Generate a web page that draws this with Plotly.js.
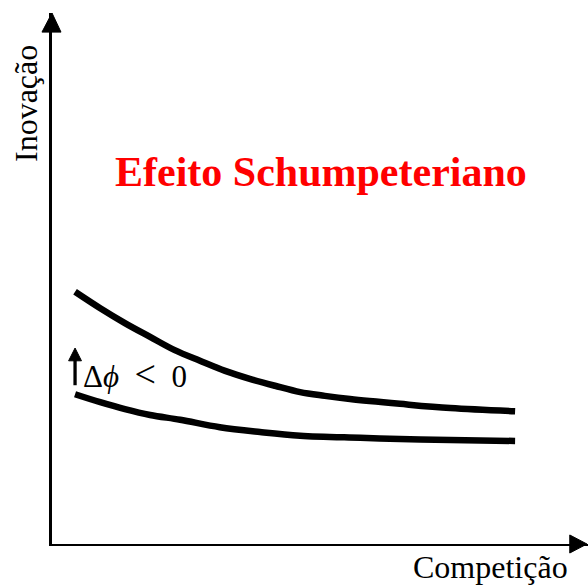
<!DOCTYPE html>
<html>
<head>
<meta charset="utf-8">
<script src="https://cdn.plot.ly/plotly-3.0.1.min.js"></script>
<style>html,body{margin:0;padding:0;background:#fff;}#chart{width:588px;height:587px;}</style>
</head>
<body>
<div id="chart"></div>
<script>
// Competição (x) vs Inovação (y), arbitrary units 0..10
var upperX = [0.43, 0.90, 1.36, 1.83, 2.29, 2.76, 3.23, 3.69, 4.16, 4.63, 5.09, 5.56, 6.49, 7.43, 8.64];
var upperY = [4.75, 4.44, 4.16, 3.90, 3.65, 3.45, 3.26, 3.11, 2.98, 2.86, 2.79, 2.73, 2.64, 2.56, 2.50];
var lowerX = [0.43, 0.90, 1.36, 1.83, 2.39, 3.13, 3.88, 4.63, 5.75, 6.87, 8.64];
var lowerY = [2.82, 2.67, 2.54, 2.43, 2.34, 2.20, 2.11, 2.04, 2.00, 1.97, 1.94];

var xLabel = 'Competição';
var yLabel = 'Inovação';
var titleText = 'Efeito Schumpeteriano';
var shiftLabel = 'Δ<i>ϕ</i>\u2002<span style="font-size:38px">&lt;</span>\u20020';

var serif = '"Liberation Serif", "Times New Roman", serif';

var traces = [
  {x: upperX, y: upperY, mode: 'lines', line: {color: '#000', width: 6.5, shape: 'spline', smoothing: 1}, hoverinfo: 'skip', showlegend: false},
  {x: lowerX, y: lowerY, mode: 'lines', line: {color: '#000', width: 6.5, shape: 'spline', smoothing: 1}, hoverinfo: 'skip', showlegend: false}
];

var layout = {
  width: 588, height: 587,
  margin: {l: 52, r: 0, t: 13, b: 43},
  paper_bgcolor: '#fff', plot_bgcolor: '#fff',
  showlegend: false,
  xaxis: {range: [0, 10], showline: true, linecolor: '#000', linewidth: 2, showgrid: false, zeroline: false, showticklabels: false, ticks: ''},
  yaxis: {range: [0, 10], showline: true, linecolor: '#000', linewidth: 3, showgrid: false, zeroline: false, showticklabels: false, ticks: ''},
  shapes: [
    // y-axis arrowhead
    {type: 'path', xref: 'paper', yref: 'paper', path: 'M -0.0187 0.964 L 0 1 L 0.0168 0.964 Z', fillcolor: '#000', line: {color: '#000', width: 1}},
    // x-axis arrowhead
    {type: 'path', xref: 'paper', yref: 'paper', path: 'M 0.966 0.017 L 0.998 0 L 0.966 -0.017 Z', fillcolor: '#000', line: {color: '#000', width: 1}},
    // shift arrow
    {type: 'line', xref: 'x', yref: 'y', x0: 0.43, x1: 0.43, y0: 2.99, y1: 3.5, line: {color: '#000', width: 3.3}},
    {type: 'path', xref: 'x', yref: 'y', path: 'M 0.31 3.45 L 0.43 3.69 L 0.55 3.45 Z', fillcolor: '#000', line: {color: '#000', width: 1}}
  ],
  annotations: [
    {text: titleText, xref: 'paper', yref: 'paper', x: (321 - 52) / 536, y: (544 - 172) / 531, showarrow: false, xanchor: 'center', yanchor: 'middle', font: {family: serif, size: 42, color: '#ff0000', weight: 'bold'}},
    {text: xLabel, xref: 'paper', yref: 'paper', x: (490 - 52) / 536, y: (544 - 567) / 531, showarrow: false, xanchor: 'center', yanchor: 'middle', font: {family: serif, size: 32, color: '#000'}},
    {text: yLabel, xref: 'paper', yref: 'paper', x: (26 - 52) / 536, y: (544 - 104) / 531, showarrow: false, textangle: -90, xanchor: 'center', yanchor: 'middle', font: {family: serif, size: 32, color: '#000'}},
    {text: shiftLabel, xref: 'x', yref: 'y', x: 1.55, y: 3.2, showarrow: false, xanchor: 'center', yanchor: 'middle', font: {family: serif, size: 31, color: '#000'}}
  ]
};

Plotly.newPlot('chart', traces, layout, {displayModeBar: false, staticPlot: true});
</script>
</body>
</html>
